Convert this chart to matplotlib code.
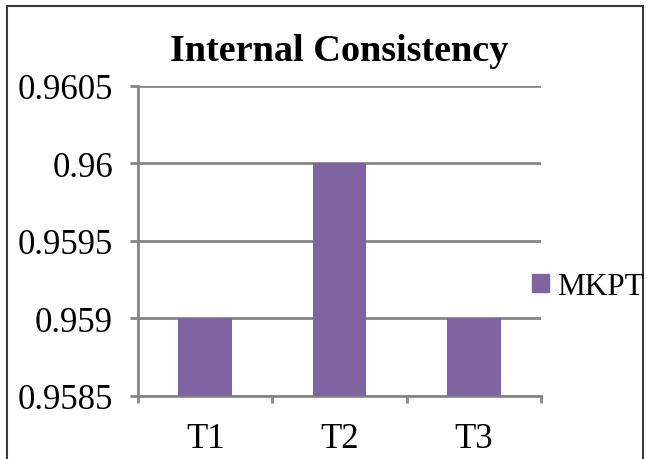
import matplotlib
matplotlib.use("Agg")
import matplotlib.pyplot as plt
from matplotlib.lines import Line2D
from matplotlib.patches import Patch

categories = ["T1", "T2", "T3"]
mkpt = [0.959, 0.960, 0.959]
yticks = [0.9585, 0.959, 0.9595, 0.96, 0.9605]
ytick_labels = ["0.9585", "0.959", "0.9595", "0.96", "0.9605"]

plt.rcParams['font.family'] = ['Liberation Serif', 'DejaVu Serif']

fig = plt.figure(figsize=(6.47, 4.60), dpi=100)
ax = fig.add_axes([0.2133, 0.137, 0.623, 0.674])

bar_color = "#8064A2"
grid_color = "#868686"

x = list(range(len(categories)))
ax.bar(x, mkpt, width=0.4, color=bar_color, zorder=3, label="MKPT")

ax.set_xlim(-0.5, len(categories) - 0.5)
ax.set_ylim(0.9585, 0.9605)
ax.set_yticks(yticks)
ax.set_yticklabels(ytick_labels)
ax.set_xticks(x)
ax.set_xticklabels(categories)
ax.set_xticks([-0.5, 0.5, 1.5, 2.5], minor=True)

ax.yaxis.grid(True, color=grid_color, linewidth=2, zorder=0)
ax.set_axisbelow(True)
for s in ["top", "right"]:
    ax.spines[s].set_visible(False)
for s in ["left", "bottom"]:
    ax.spines[s].set_color(grid_color)
    ax.spines[s].set_linewidth(2)

ax.tick_params(axis="y", which="major", length=6, width=2, color=grid_color,
               labelsize=25, pad=12)
ax.tick_params(axis="x", which="major", length=0, labelsize=25, pad=19)
ax.tick_params(axis="x", which="minor", length=5, width=2, color=grid_color)

ax.set_title("Internal Consistency", fontsize=27.5, fontweight="bold", pad=19)

handles = [Patch(facecolor=bar_color, edgecolor=bar_color, label="MKPT")]
fig.legend(handles=handles, loc="center left", bbox_to_anchor=(0.822, 0.375),
           frameon=False, fontsize=22.5, handlelength=0.55, handleheight=0.55,
           handletextpad=0.25, borderpad=0, borderaxespad=0)

# outer chart border (top, left, right)
fig.add_artist(Line2D([0.011, 0.994], [0.985, 0.985], color="#3a3a3a", lw=1.5,
                      transform=fig.transFigure))
fig.add_artist(Line2D([0.011, 0.011], [0.0, 0.985], color="#3a3a3a", lw=1.5,
                      transform=fig.transFigure))
fig.add_artist(Line2D([0.994, 0.994], [0.0, 0.985], color="#3a3a3a", lw=1.5,
                      transform=fig.transFigure))

fig.savefig("out.png", dpi=100)
